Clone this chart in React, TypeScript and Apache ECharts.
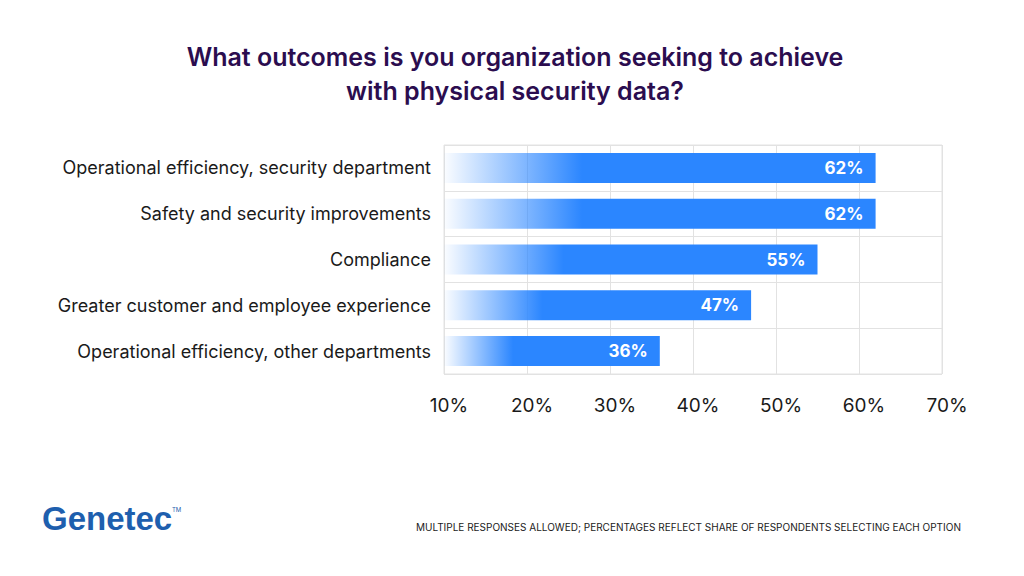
import * as echarts from "echarts";
import { useEffect, useRef } from "react";

const categories = [
  "Operational efficiency, security department",
  "Safety and security improvements",
  "Compliance",
  "Greater customer and employee experience",
  "Operational efficiency, other departments",
];
const values = [62, 62, 55, 47, 36];

export default function App() {
  const chartRef = useRef<HTMLDivElement>(null);

  useEffect(() => {
    if (!chartRef.current) return;
    const chart = echarts.init(chartRef.current, null, { renderer: "svg" });
    const font = "Inter, 'Noto Sans', sans-serif";

    chart.setOption({
      animation: false,
      backgroundColor: "#ffffff",
      title: {
        text: "What outcomes is you organization seeking to achieve\nwith physical security data?",
        left: 510,
        textAlign: "center",
        top: 35,
        textStyle: {
          fontFamily: font,
          fontSize: 25,
          fontWeight: 600,
          color: "#2b0d4f",
          lineHeight: 34,
        },
      },
      grid: { left: 444, right: 82, top: 145, height: 229, show: true, borderColor: "#e2e2e2", borderWidth: 1 },
      xAxis: {
        type: "value",
        min: 10,
        max: 70,
        interval: 10,
        axisLine: { show: false },
        axisTick: { show: false },
        splitLine: { lineStyle: { color: "#e2e2e2" } },
        axisLabel: {
          formatter: "{value}%",
          margin: 22,
          fontFamily: font,
          fontSize: 19,
          color: "#1a1a1a",
          padding: [0, 0, 0, 10],
        },
      },
      yAxis: {
        type: "category",
        inverse: true,
        data: categories,
        axisLine: { show: false },
        axisTick: { show: false },
        splitLine: { show: true, lineStyle: { color: "#e2e2e2" } },
        axisLabel: { margin: 13, fontFamily: font, fontSize: 18, color: "#1a1a1a" },
      },
      series: [
        {
          type: "bar",
          data: values,
          barWidth: 30,
          itemStyle: {
            color: new echarts.graphic.LinearGradient(0, 0, 1, 0, [
              { offset: 0, color: "rgba(43,134,255,0.02)" },
              { offset: 0.32, color: "#2b86ff" },
              { offset: 1, color: "#2b86ff" },
            ]),
          },
          label: {
            show: true,
            position: "insideRight",
            distance: 12,
            formatter: "{c}%",
            color: "#ffffff",
            fontFamily: font,
            fontSize: 17,
            fontWeight: "bold",
          },
        },
      ],
      graphic: [
        {
          type: "text",
          left: 42,
          top: 502,
          style: {
            text: "Genetec",
            fontFamily: "'Liberation Sans', Arial, sans-serif",
            fontSize: 33,
            fontWeight: 900,
            fill: "#1e5fae",
          },
        },
        {
          type: "text",
          left: 172,
          top: 506,
          style: { text: "TM", fontFamily: font, fontSize: 6, fill: "#1e5fae" },
        },
        {
          type: "text",
          left: 416,
          top: 522,
          style: {
            text: "MULTIPLE RESPONSES ALLOWED; PERCENTAGES REFLECT SHARE OF RESPONDENTS SELECTING EACH OPTION",
            fontFamily: font,
            fontSize: 10,
            fill: "#1a1a1a",
          },
        },
      ],
    });

    return () => chart.dispose();
  }, []);

  return <div ref={chartRef} style={{ width: 1024, height: 576, margin: -8 }} />;
}
